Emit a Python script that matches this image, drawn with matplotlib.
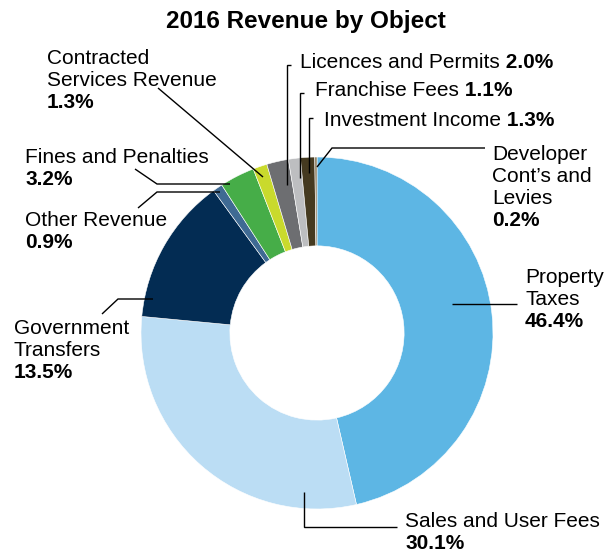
#!/usr/bin/env python3
"""2016 Revenue by Object - donut chart with leader-line labels."""

import matplotlib
matplotlib.use('Agg')
import matplotlib.pyplot as plt

plt.rcParams['font.family'] = ['Liberation Sans', 'DejaVu Sans']

# Data (clockwise from 12 o'clock)
categories = ['Property Taxes', 'Sales and User Fees', 'Government Transfers',
              'Other Revenue', 'Fines and Penalties', 'Contracted Services Revenue',
              'Licences and Permits', 'Franchise Fees', 'Investment Income',
              "Developer Cont's and Levies"]
shares = [46.4, 30.1, 13.5, 0.9, 3.2, 1.3, 2.0, 1.1, 1.3, 0.2]
colors = ['#5db6e4', '#bbddf4', '#032c53', '#3f6a93', '#46ad48', '#c9da2d',
          '#6d6e71', '#bdbec0', '#453a20', '#8a7a5a']

# label text (name lines) and where it sits, in pixel coords of the 607x552 image
label_lines = [['Property', 'Taxes'], ['Sales and User Fees'], ['Government', 'Transfers'],
               ['Other Revenue'], ['Fines and Penalties'], ['Contracted', 'Services Revenue'],
               ['Licences and Permits'], ['Franchise Fees'], ['Investment Income'],
               ['Developer', 'Cont\u2019s and', 'Levies']]
inline_pct = [False, False, False, False, False, False, True, True, True, False]
label_xy = [(525, 276), (405, 520), (14, 327), (25, 219), (25, 156), (47, 57),
            (300, 61), (315, 89), (324, 119), (492, 153)]
leaders = [
    [(452, 304), (517, 304)],
    [(304, 492), (304, 527), (397, 527)],
    [(153, 299), (118, 299), (102, 314)],
    [(220, 192), (157, 192), (138, 208)],
    [(230, 184), (157, 184), (135, 169)],
    [(263, 177), (158, 88)],
    [(287, 185), (287, 65), (291, 65)],
    [(300, 178), (300, 93), (304, 93)],
    [(309, 173), (309, 118), (313, 118)],
    [(317, 167), (332, 148), (485, 148)],
]

W, H = 607, 552
CX, CY, R = 317, 333, 176
LINE_H = 22
FS = 15


def px(x, y):
    """pixel position (top-left origin) -> data coords around the donut."""
    return (x - CX) / R, (CY - y) / R


fig = plt.figure(figsize=(W / 100, H / 100), dpi=100)
ax = fig.add_axes([0, 0, 1, 1])

ax.pie(shares, colors=colors, startangle=90, counterclock=False, radius=1.0,
       wedgeprops=dict(width=0.505, edgecolor='white', linewidth=0.4))

ax.set_xlim(px(0, 0)[0], px(W, 0)[0])
ax.set_ylim(px(0, H)[1], px(0, 0)[1])
ax.set_aspect('equal')
ax.axis('off')

# title
tx, ty = px(306, 28)
ax.text(tx, ty, '2016 Revenue by Object', ha='center', va='baseline',
        fontsize=17.5, fontweight='bold')

for lines, inline, (lx, ly), share, path in zip(label_lines, inline_pct, label_xy,
                                                 shares, leaders):
    pct = f'{share:.1f}%'
    if inline:
        x, y = px(lx, ly + 7)
        t = ax.text(x, y, lines[0], ha='left', va='baseline', fontsize=FS)
        ax.annotate(' ' + pct, xy=(1, 0), xycoords=t, ha='left', va='bottom',
                    fontsize=FS, fontweight='bold')
    else:
        for i, line in enumerate(lines):
            x, y = px(lx, ly + 7 + i * LINE_H)
            ax.text(x, y, line, ha='left', va='baseline', fontsize=FS)
        x, y = px(lx, ly + 7 + len(lines) * LINE_H)
        ax.text(x, y, pct, ha='left', va='baseline', fontsize=FS, fontweight='bold')

    pts = [px(a, b) for a, b in path]
    ax.plot([p[0] for p in pts], [p[1] for p in pts], color='black', lw=1.0,
            solid_capstyle='butt', solid_joinstyle='miter')

fig.savefig('out.png', dpi=100, facecolor='white')
plt.close(fig)
